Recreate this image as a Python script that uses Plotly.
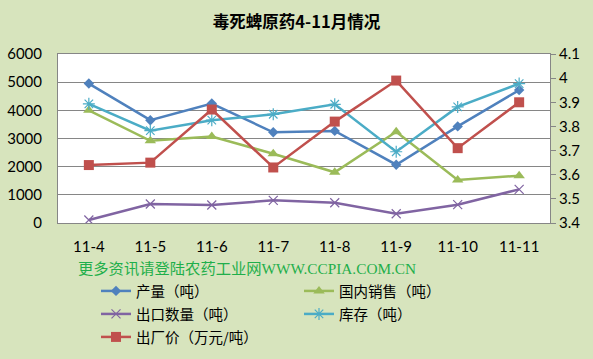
import plotly.graph_objects as go

months = ["11-4", "11-5", "11-6", "11-7", "11-8", "11-9", "11-10", "11-11"]
production = [4950, 3650, 4240, 3220, 3270, 2070, 3430, 4720]
domestic_sales = [4000, 2920, 3070, 2460, 1800, 3240, 1530, 1680]
export_qty = [105, 675, 640, 805, 720, 330, 650, 1195]
inventory = [4230, 3280, 3650, 3860, 4215, 2530, 4120, 4950]
price = [3.64, 3.65, 3.87, 3.63, 3.82, 3.99, 3.71, 3.90]

names = ["产量（吨）", "国内销售（吨）", "出口数量（吨）", "库存（吨）", "出厂价（万元/吨）"]

BG = "#D7E4BD"
GRID = "#868686"

fig = go.Figure()

def add(y, name, color, symbol, size, legend, yaxis="y", mline=None):
    marker = dict(symbol=symbol, size=size, color=color)
    if mline is not None:
        marker["line"] = dict(color=color, width=mline)
    fig.add_trace(go.Scatter(
        x=months, y=y, name=name, mode="lines+markers",
        line=dict(color=color, width=2.5), marker=marker,
        legend=legend, yaxis=yaxis))

add(production, names[0], "#4F81BD", "diamond", 8, "legend")
add(domestic_sales, names[1], "#9BBB59", "triangle-up", 10, "legend")
add(export_qty, names[2], "#8064A2", "x-thin-open", 9, "legend2", mline=1.2)
add(inventory, names[3], "#4BACC6", "asterisk-open", 10, "legend2", mline=1.2)
add(price, names[4], "#C0504D", "square", 10, "legend3", yaxis="y2")

lfont = dict(family="Noto Sans CJK SC, sans-serif", size=14.5, color="#000000")
leg_common = dict(orientation="h", xanchor="left", yanchor="middle",
                  bgcolor="rgba(0,0,0,0)", font=lfont,
                  entrywidth=158, entrywidthmode="pixels", itemwidth=30,
                  x=(96 - 58) / 492)

fig.update_layout(
    width=593, height=359,
    margin=dict(l=58, r=43, t=54, b=136, autoexpand=False),
    paper_bgcolor=BG, plot_bgcolor="#FFFFFF",
    title=dict(text="<b>毒死蜱原药4-11月情况</b>", x=0.5, xanchor="center",
               y=1 - 22 / 359, yanchor="middle",
               font=dict(family="Noto Sans CJK SC, sans-serif", size=16.5, color="#000000")),
    showlegend=True,
    legend=dict(**leg_common, y=(223 - 291) / 169),
    legend2=dict(**leg_common, y=(223 - 314) / 169),
    legend3=dict(**leg_common, y=(223 - 337) / 169),
    xaxis=dict(type="category", showgrid=False, showline=True, linecolor=GRID, linewidth=1,
               mirror=True, ticks="", ticklabelstandoff=10, automargin=False,
               tickfont=dict(family="Lato, sans-serif", size=15, color="#000000")),
    yaxis=dict(range=[0, 6000], dtick=1000, showgrid=True, gridcolor=GRID, gridwidth=1,
               showline=True, linecolor=GRID, linewidth=1, zeroline=False,
               ticks="", ticklabelstandoff=12, automargin=False,
               tickfont=dict(family="Lato, sans-serif", size=15, color="#000000")),
    yaxis2=dict(range=[3.4, 4.1], dtick=0.1, overlaying="y", side="right",
                showgrid=False, showline=True, linecolor=GRID, linewidth=1, zeroline=False,
                ticks="outside", ticklen=5, tickcolor=GRID, automargin=False,
                tickfont=dict(family="Lato, sans-serif", size=15, color="#000000")),
    annotations=[dict(
        text="更多资讯请登陆农药工业网WWW.CCPIA.COM.CN",
        xref="paper", yref="paper", x=(246.5 - 58) / 492, y=(223 - 268) / 169,
        xanchor="center", yanchor="middle", showarrow=False,
        font=dict(family="Liberation Serif, Noto Sans CJK SC, serif", size=15.3, color="#1FAF4B"))],
)

fig.write_html("out.html")
